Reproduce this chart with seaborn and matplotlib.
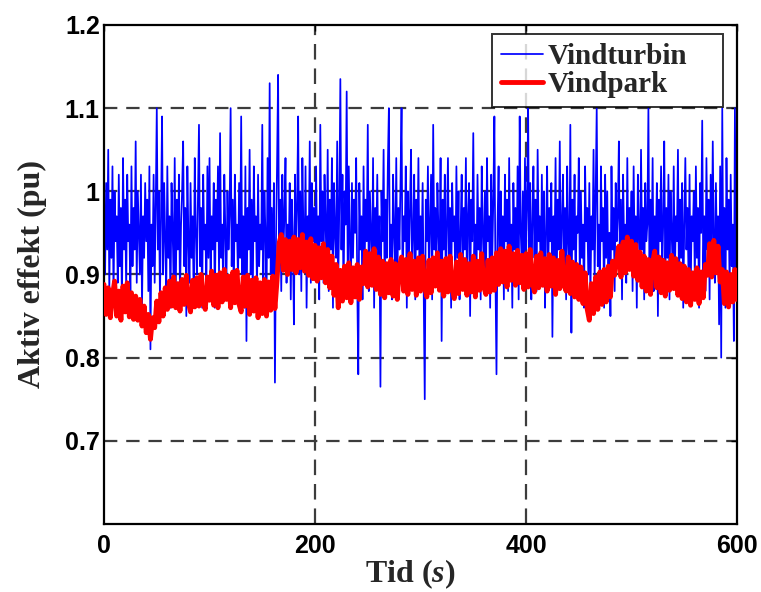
import numpy as np
import pandas as pd
import seaborn as sns
import matplotlib.pyplot as plt

sns.set_theme(style="white")
plt.rcParams['font.family'] = ['Liberation Serif', 'DejaVu Serif']
plt.rcParams['mathtext.fontset'] = 'custom'
plt.rcParams['mathtext.it'] = 'Liberation Serif:italic:bold'

# wind turbine active power (pu), one sample per second, 0..600 s
vindturbin = [
    0.95, 0.90, 1.01, 0.93, 1.05, 0.88, 0.99, 0.92, 1.03, 0.87, 1.00, 0.94, 0.97, 0.89, 1.02, 0.91, 0.98, 0.86, 1.04, 0.93,
    0.99, 0.88, 1.02, 0.94, 0.96, 0.87, 1.03, 0.91, 0.98, 0.93, 1.06, 0.89, 1.00, 0.95, 0.90, 1.02, 0.86, 0.97, 0.92, 1.01,
    0.94, 0.99, 0.88, 1.03, 0.81, 0.96, 0.91, 1.02, 0.89, 0.98, 1.10, 0.93, 1.00, 0.87, 0.97, 1.09, 0.90, 1.01, 0.94, 0.88,
    1.03, 0.92, 0.97, 0.86, 1.01, 0.95, 0.90, 1.04, 0.88, 0.99, 0.93, 1.02, 0.87, 0.96, 1.00, 1.06, 0.91, 0.98, 0.85, 1.03,
    0.94, 0.89, 1.01, 0.92, 0.97, 0.87, 1.04, 0.95, 0.90, 0.99, 1.08, 0.91, 0.98, 0.86, 1.02, 0.93, 0.96, 0.88, 1.03, 0.92,
    1.04, 0.89, 0.97, 0.93, 1.01, 0.86, 0.99, 0.94, 1.03, 0.90, 1.07, 0.92, 0.96, 0.88, 1.02, 0.95, 0.89, 1.00, 0.93, 0.97,
    1.10, 0.91, 0.99, 0.87, 1.02, 0.94, 0.96, 0.89, 1.01, 0.92, 1.09, 0.90, 0.97, 0.86, 1.03, 0.82, 0.98, 0.93, 1.05, 0.90,
    0.99, 0.87, 1.03, 0.94, 0.97, 0.88, 1.02, 0.91, 0.96, 0.93, 1.08, 0.89, 1.00, 0.95, 0.86, 1.04, 0.92, 1.13, 0.90, 0.98,
    0.87, 1.01, 0.77, 0.94, 1.03, 1.14, 0.91, 0.99, 0.88, 1.02, 0.93, 0.97, 1.04, 0.89, 0.96, 0.92, 1.01, 0.87, 0.99, 0.94,
    0.84, 1.02, 0.93, 0.98, 1.09, 0.90, 1.00, 0.88, 1.04, 0.95, 0.91, 1.03, 0.86, 0.97, 0.93, 1.06, 0.89, 1.01, 0.94, 0.98,
    0.90, 1.03, 0.92, 0.97, 0.87, 1.08, 0.94, 1.00, 0.89, 1.02, 0.96, 0.91, 1.05, 0.88, 0.99, 0.93, 1.04, 0.86, 1.01, 0.95,
    0.92, 1.06, 0.89, 0.98, 1.135, 0.93, 1.02, 0.87, 1.00, 0.96, 1.12, 0.90, 1.03, 0.94, 0.88, 1.01, 0.92, 0.99, 0.95, 1.04,
    0.89, 0.78, 1.01, 0.93, 0.97, 0.87, 1.03, 0.91, 0.99, 0.94, 1.08, 0.88, 1.00, 0.95, 0.90, 1.04, 0.86, 0.98, 0.93, 1.02,
    0.91, 0.97, 0.765, 1.00, 0.94, 1.05, 0.88, 0.99, 0.92, 1.03, 1.10, 0.90, 0.96, 0.87, 1.02, 0.95, 0.91, 1.04, 0.89, 0.98,
    0.93, 1.01, 1.10, 0.88, 0.97, 0.94, 1.03, 0.86, 1.00, 0.92, 0.98, 1.05, 0.89, 0.95, 1.02, 0.87, 0.99, 0.93, 1.04, 0.90,
    0.97, 0.92, 1.01, 0.88, 0.75, 0.99, 0.94, 1.03, 0.90, 0.96, 1.02, 0.87, 1.08, 0.93, 0.98, 0.89, 1.01, 0.95, 0.91, 1.04,
    0.82, 0.99, 0.93, 1.02, 0.88, 0.96, 1.04, 0.91, 0.98, 0.86, 1.01, 0.94, 0.97, 0.89, 1.03, 0.92, 1.00, 0.87, 0.95, 1.02,
    0.90, 0.98, 0.93, 1.04, 0.88, 0.97, 1.01, 0.85, 0.99, 0.94, 1.07, 0.91, 0.96, 0.89, 1.02, 0.93, 0.98, 0.87, 1.03, 0.95,
    0.91, 1.00, 0.88, 1.04, 0.94, 0.97, 0.86, 1.02, 0.92, 0.99, 1.09, 0.90, 0.78, 0.96, 1.03, 0.89, 1.00, 0.93, 0.97, 0.87,
    1.02, 0.94, 0.99, 0.88, 1.04, 0.92, 0.96, 0.86, 1.01, 0.93, 0.98, 0.90, 1.03, 0.87, 1.09, 0.95, 0.91, 1.00, 0.89, 1.04,
    0.93, 0.98, 1.10, 0.90, 1.01, 0.87, 0.96, 1.03, 0.92, 0.99, 0.88, 1.05, 0.94, 0.97, 0.89, 1.02, 0.91, 1.00, 0.86, 0.95,
    1.03, 0.90, 0.98, 0.94, 1.01, 0.825, 0.97, 0.92, 1.04, 0.88, 0.99, 0.93, 1.06, 0.89, 0.96, 1.02, 0.91, 0.98, 0.87, 1.03,
    0.94, 0.90, 1.08, 0.83, 0.99, 0.93, 1.02, 0.88, 0.97, 0.95, 1.04, 0.89, 1.00, 0.92, 0.96, 0.86, 1.03, 0.94, 0.98, 0.90,
    1.01, 0.87, 0.97, 0.93, 1.05, 0.89, 0.99, 1.10, 0.91, 0.96, 0.88, 1.03, 0.94, 0.98, 0.86, 1.02, 0.92, 1.00, 0.89, 0.95,
    0.85, 1.03, 0.93, 0.98, 0.88, 1.01, 0.94, 0.97, 1.06, 0.90, 0.99, 0.87, 1.02, 0.93, 0.96, 0.89, 1.04, 0.91, 0.98, 0.94,
    1.00, 0.88, 1.03, 0.92, 0.97, 0.86, 1.02, 0.95, 0.90, 1.05, 0.93, 0.98, 0.87, 1.01, 0.94, 0.96, 1.10, 0.89, 0.99, 0.92,
    1.04, 0.88, 0.97, 0.93, 1.01, 0.85, 0.99, 0.94, 1.03, 0.90, 0.96, 1.06, 0.89, 0.98, 0.92, 1.02, 0.87, 1.00, 0.95, 0.91,
    1.03, 0.89, 0.97, 0.94, 1.05, 0.88, 0.99, 0.92, 1.01, 0.86, 0.96, 1.04, 0.93, 0.98, 0.90, 1.02, 0.87, 0.97, 0.94, 1.00,
    0.89, 1.03, 0.92, 0.98, 0.86, 1.01, 0.95, 1.085, 0.90, 0.97, 0.88, 1.04, 0.93, 0.99, 0.87, 1.02, 0.91, 1.06, 0.94, 0.89,
    1.01, 0.92, 0.97, 0.84, 1.03, 0.80, 1.10, 0.90, 0.98, 0.86, 1.04, 0.93, 0.99, 0.88, 1.02, 0.91, 0.96, 0.82, 1.10, 0.90,
    0.95,
]

# wind park active power (pu), one sample every 2 s, 0..600 s
vindpark = [
    0.888, 0.852, 0.884, 0.848, 0.875, 0.892, 0.850, 0.880, 0.845, 0.886, 0.855, 0.890, 0.849, 0.878, 0.846,
    0.874, 0.845, 0.870, 0.838, 0.862, 0.830, 0.852, 0.822, 0.848, 0.836, 0.868, 0.843, 0.878, 0.850, 0.884,
    0.858, 0.892, 0.862, 0.897, 0.860, 0.889, 0.856, 0.894, 0.864, 0.899, 0.866, 0.855, 0.893, 0.861, 0.896,
    0.862, 0.900, 0.866, 0.858, 0.897, 0.869, 0.904, 0.863, 0.899, 0.860, 0.902, 0.867, 0.906, 0.870, 0.898,
    0.860, 0.903, 0.866, 0.905, 0.864, 0.855, 0.897, 0.862, 0.899, 0.852, 0.893, 0.856, 0.896, 0.848, 0.890,
    0.853, 0.894, 0.850, 0.891, 0.857, 0.898, 0.859, 0.893, 0.938, 0.948, 0.905, 0.942, 0.900, 0.940, 0.906,
    0.945, 0.902, 0.942, 0.908, 0.948, 0.904, 0.939, 0.899, 0.943, 0.895, 0.935, 0.892, 0.932, 0.896, 0.937,
    0.890, 0.930, 0.884, 0.922, 0.875, 0.912, 0.860, 0.905, 0.868, 0.910, 0.872, 0.914, 0.866, 0.908, 0.873,
    0.912, 0.870, 0.909, 0.889, 0.928, 0.885, 0.925, 0.887, 0.931, 0.882, 0.921, 0.876, 0.916, 0.872, 0.913,
    0.878, 0.918, 0.874, 0.913, 0.870, 0.910, 0.921, 0.880, 0.918, 0.876, 0.925, 0.882, 0.916, 0.875, 0.920,
    0.880, 0.922, 0.884, 0.873, 0.917, 0.878, 0.920, 0.886, 0.926, 0.881, 0.916, 0.874, 0.919, 0.879, 0.922,
    0.883, 0.871, 0.915, 0.877, 0.924, 0.882, 0.918, 0.875, 0.913, 0.879, 0.922, 0.873, 0.916, 0.881, 0.925,
    0.885, 0.876, 0.917, 0.879, 0.920, 0.881, 0.926, 0.888, 0.931, 0.891, 0.928, 0.885, 0.934, 0.893, 0.925,
    0.887, 0.929, 0.890, 0.923, 0.882, 0.925, 0.885, 0.930, 0.891, 0.879, 0.922, 0.884, 0.926, 0.887, 0.919,
    0.880, 0.924, 0.886, 0.920, 0.876, 0.917, 0.883, 0.928, 0.888, 0.880, 0.921, 0.877, 0.915, 0.873, 0.912,
    0.870, 0.909, 0.865, 0.902, 0.858, 0.845, 0.889, 0.853, 0.897, 0.858, 0.903, 0.864, 0.906, 0.867, 0.910,
    0.873, 0.916, 0.899, 0.918, 0.934, 0.897, 0.939, 0.902, 0.945, 0.906, 0.940, 0.898, 0.936, 0.893, 0.927,
    0.885, 0.922, 0.880, 0.918, 0.876, 0.915, 0.928, 0.884, 0.921, 0.878, 0.917, 0.874, 0.914, 0.881, 0.923,
    0.883, 0.919, 0.875, 0.913, 0.871, 0.910, 0.867, 0.906, 0.863, 0.902, 0.870, 0.908, 0.865, 0.903, 0.872,
    0.912, 0.899, 0.937, 0.897, 0.941, 0.902, 0.934, 0.891, 0.906, 0.865, 0.903, 0.861, 0.900, 0.867, 0.906,
    0.870,
]

tid_turbin = np.linspace(0, 600, len(vindturbin))
tid_park = np.linspace(0, 600, len(vindpark))

x_ticks = [0, 200, 400, 600]
y_ticks = [0.7, 0.8, 0.9, 1.0, 1.1, 1.2]
y_ticklabels = ['0.7', '0.8', '0.9', '1', '1.1', '1.2']

fig = plt.figure(figsize=(7.61, 5.92), dpi=100)
ax = fig.add_axes([0.1367, 0.1149, 0.8318, 0.8429])

# dashed grid drawn underneath the data
for yv in y_ticks[:-1]:
    ax.axhline(yv, color='#3c3c3c', lw=1.6, ls=(0, (6, 4)), zorder=0)
for xv in x_ticks[1:-1]:
    ax.axvline(xv, color='#3c3c3c', lw=1.6, ls=(0, (7, 4)), zorder=0)

sns.lineplot(x=tid_turbin, y=vindturbin, ax=ax, color='#0000ff', lw=1.25,
             estimator=None, label='Vindturbin', zorder=2)
sns.lineplot(x=tid_park, y=vindpark, ax=ax, color='#ff0000', lw=3.5,
             estimator=None, label='Vindpark', zorder=3)

ax.set_xlim(0, 600)
ax.set_ylim(0.6, 1.2)
ax.set_xticks(x_ticks)
ax.set_yticks(y_ticks)
ax.set_xticklabels([str(v) for v in x_ticks])
ax.set_yticklabels(y_ticklabels)
ax.tick_params(direction='in', length=4, width=1, top=True, right=True,
               labelsize=18, colors='black')
ax.tick_params(axis='x', pad=7)
ax.tick_params(axis='y', pad=3)
for lab in ax.get_xticklabels() + ax.get_yticklabels():
    lab.set_family(['Liberation Sans Narrow', 'Liberation Sans'])
    lab.set_fontweight('bold')

for sp in ax.spines.values():
    sp.set_color('black')
    sp.set_linewidth(1.6)

ax.set_xlabel('Tid ($s$)', fontsize=23, fontweight='bold', labelpad=0)
ax.xaxis.label.set_x(0.483)
ax.set_ylabel('Aktiv effekt (pu)', fontsize=23, fontweight='bold', labelpad=13)

# legend box stretched to the width of the original one
leg = ax.legend(loc='upper left',
                bbox_to_anchor=(492 / 761, 1 - 109 / 592, 231 / 761, 75 / 592),
                bbox_transform=fig.transFigure, mode='expand', borderaxespad=0,
                fontsize=21, frameon=True, fancybox=False,
                handlelength=1.45, handletextpad=0.15, borderpad=0.3,
                labelspacing=0.05)
leg.get_frame().set_edgecolor('black')
leg.get_frame().set_linewidth(1.4)
for t in leg.get_texts():
    t.set_fontweight('bold')

fig.savefig('out.png', dpi=100)
